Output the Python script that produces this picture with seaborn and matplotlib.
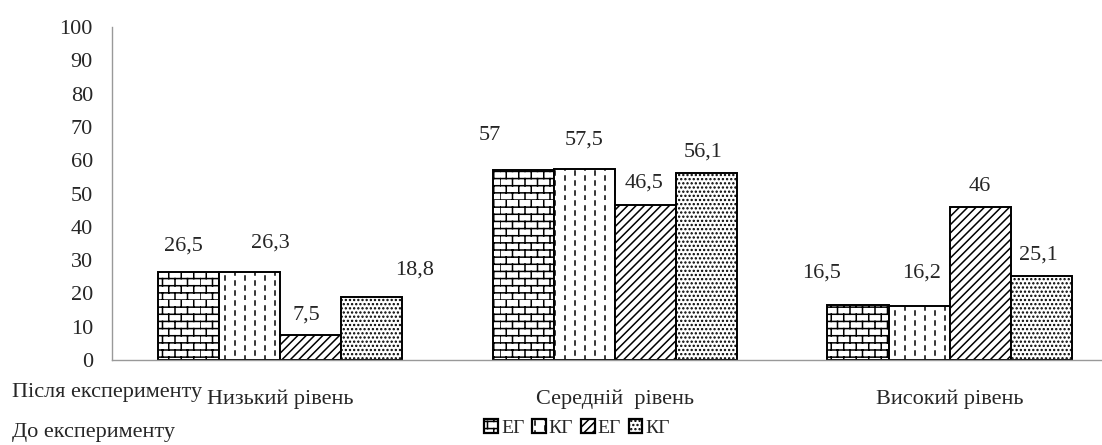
import warnings
import numpy as np
import pandas as pd
import seaborn as sns
import matplotlib.pyplot as plt
import matplotlib.hatch as mhatch
from matplotlib.path import Path
from matplotlib.patches import Patch

warnings.filterwarnings("ignore")

# ---------------------------
# DATA
# ---------------------------
levels = ["Низький рівень", "Середній  рівень", "Високий рівень"]
series = ["ЕГ", "КГ", "ЕГ ", "КГ "]
eg_after = [26.5, 57, 16.5]
kg_after = [26.3, 57.5, 16.2]
eg_before = [7.5, 46.5, 46]
kg_before = [18.8, 56.1, 25.1]
legend_labels = ["ЕГ", "КГ", "ЕГ", "КГ"]

df = pd.DataFrame({
    "level": levels * 4,
    "group": np.repeat(series, 3),
    "value": eg_after + kg_after + eg_before + kg_before,
})


# ---------------------------
# CUSTOM HATCHES (brick + dashed verticals)
# ---------------------------
def _fill(vertices, codes, segs):
    vertices[:] = np.array(segs, dtype=float).reshape(-1, 2)
    codes[0::2] = Path.MOVETO
    codes[1::2] = Path.LINETO


class BrickHatch(mhatch.HatchPatternBase):
    rows, cols = 14, 8

    def __init__(self, hatch, density):
        self.num_vertices = 2 * self.rows * (self.cols + 1) if "b" in hatch else 0

    def set_vertices_and_codes(self, vertices, codes):
        segs = []
        for i in range(self.rows):
            y0, y1 = i / self.rows, (i + 1) / self.rows
            segs.append(((0, y0), (1, y0)))
            shift = 0.5 * (i % 2) / self.cols
            for j in range(self.cols):
                x = j / self.cols + shift
                segs.append(((x, y0), (x, y1)))
        _fill(vertices, codes, segs)


class DashHatch(mhatch.HatchPatternBase):
    rows, cols = 10, 10

    def __init__(self, hatch, density):
        self.num_vertices = 2 * self.rows * self.cols if "k" in hatch else 0

    def set_vertices_and_codes(self, vertices, codes):
        segs = []
        for j in range(self.cols):
            x = (j + 0.5) / self.cols
            shift = 0.5 * (j % 2) / self.rows
            for i in range(self.rows):
                y0 = i / self.rows + shift
                segs.append(((x, y0), (x, y0 + 0.4 / self.rows)))
        _fill(vertices, codes, segs)


mhatch._hatch_types.extend([BrickHatch, DashHatch])

hatches = ["b", "k", "////", "...."]

# ---------------------------
# PLOT
# ---------------------------
sns.set_style("white")
plt.rcParams["font.family"] = ["Liberation Serif", "DejaVu Serif"]
plt.rcParams["hatch.linewidth"] = 1.1

fig = plt.figure(figsize=(11.02, 4.45), dpi=100)
ax = fig.add_axes([0.102, 0.191, 0.898, 0.748])

sns.barplot(
    data=df, x="level", y="value", hue="group",
    palette=["white"] * 4, edgecolor="black", linewidth=1.4,
    width=0.73, legend=False, ax=ax,
)

for cont, h in zip(ax.containers, hatches):
    for bar in cont:
        bar.set_hatch(h)

# value labels (offsets in px, following the original layout)
offsets = [
    [(-5, 26), (-33, 35), (-36, 32)],
    [(21, 29), (0, 29), (2, 33)],
    [(-4, 20), (-1, 22), (0, 20)],
    [(43, 27), (-3, 21), (-3, 21)],
]
for cont, offs in zip(ax.containers, offsets):
    for bar, (dx, dy) in zip(cont, offs):
        v = bar.get_height()
        txt = f"{v:g}".replace(".", ",")
        ax.annotate(txt, (bar.get_x() + bar.get_width() / 2, v),
                    xytext=(dx * 0.72, dy * 0.72), textcoords="offset points",
                    ha="center", va="center", fontsize=16)

ax.set_ylim(0, 100)
ax.set_yticks(range(0, 101, 10))
ax.set_xlim(-0.5, 2.455)
ax.set_xticks([0.5, 1.5], minor=True)
ax.tick_params(axis="x", which="major", length=0, pad=21, labelsize=16)
ax.tick_params(axis="x", which="minor", length=5, color="#999999", direction="out")
ax.tick_params(axis="y", length=5, color="#999999", direction="out", labelsize=16, pad=9)
ax.set_xlabel("")
ax.set_ylabel("")

sns.despine(ax=ax)
for s in ["left", "bottom"]:
    ax.spines[s].set_color("#999999")
    ax.spines[s].set_linewidth(1.0)

fig.text(12 / 1102, 1 - 392 / 445, "Після експерименту", fontsize=16, va="center", ha="left")
fig.text(12 / 1102, 1 - 433 / 445, "До експерименту", fontsize=16, va="center", ha="left")

handles = [Patch(facecolor="white", edgecolor="black", hatch=h, linewidth=1.6) for h in hatches]
fig.legend(handles, legend_labels, loc="center", bbox_to_anchor=(577 / 1102, 1 - 428 / 445),
           ncol=4, frameon=False, fontsize=14, handlelength=0.7, handleheight=0.7,
           handletextpad=0.15, columnspacing=0.4, borderaxespad=0, borderpad=0)

fig.savefig("out.png", dpi=100)
